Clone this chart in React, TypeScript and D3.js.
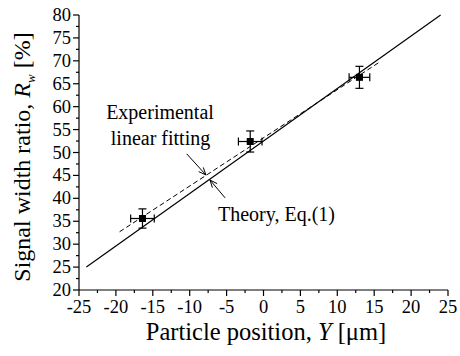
import React from 'react';
import * as d3 from 'd3';

// measured points (particle position Y [um] vs signal width ratio Rw [%])
const pointY = [-16.4, -1.8, 13.0];
const pointR = [35.6, 52.4, 66.4];
const errY = [1.6, 1.6, 1.4];
const errR = [2.1, 2.3, 2.4];

// theory line, Eq.(1)
const theoryY = [-24, 24];
const theoryR = [25, 80];

// experimental linear fitting
const fitY = [-19.5, 15.7];
const fitR = [32.7, 69.7];

const xTicks = [-25, -20, -15, -10, -5, 0, 5, 10, 15, 20, 25];
const yTicks = [20, 25, 30, 35, 40, 45, 50, 55, 60, 65, 70, 75, 80];

const W = 460;
const H = 356;
const font = "'Liberation Serif', 'DejaVu Serif', serif";

const x = d3.scaleLinear().domain([-25, 25]).range([79, 448]);
const y = d3.scaleLinear().domain([20, 80]).range([290, 15]);

const line = d3.line<[number, number]>()
  .x(d => x(d[0]))
  .y(d => y(d[1]));

function Arrow({ from, to }: { from: [number, number]; to: [number, number] }) {
  const x1 = x(from[0]), y1 = y(from[1]);
  const x2 = x(to[0]), y2 = y(to[1]);
  const ang = Math.atan2(y2 - y1, x2 - x1);
  const len = 8, spread = 0.4;
  const a1 = [x2 - len * Math.cos(ang - spread), y2 - len * Math.sin(ang - spread)];
  const a2 = [x2 - len * Math.cos(ang + spread), y2 - len * Math.sin(ang + spread)];
  return (
    <g stroke="#000" strokeWidth={1} fill="none">
      <line x1={x1} y1={y1} x2={x2} y2={y2} />
      <path d={`M${a1[0]},${a1[1]}L${x2},${y2}L${a2[0]},${a2[1]}`} />
    </g>
  );
}

export default function App() {
  const xMinor = d3.range(-22.5, 25, 5);
  const yMinor = d3.range(22.5, 80, 5);
  const txt = { fontFamily: font };

  return (
    <svg width={W} height={H} style={{ position: 'absolute', left: 0, top: 0, background: '#fff', fontFamily: font }}>
      {/* axes */}
      <g stroke="#000" strokeWidth={1.2}>
        <line x1={x(-25)} x2={x(25)} y1={y(20)} y2={y(20)} />
        <line x1={x(-25)} x2={x(-25)} y1={y(20)} y2={y(80)} />
        {xTicks.map(t => <line key={'xt' + t} x1={x(t)} x2={x(t)} y1={y(20)} y2={y(20) + 6} />)}
        {xMinor.map(t => <line key={'xm' + t} x1={x(t)} x2={x(t)} y1={y(20)} y2={y(20) + 3} />)}
        {yTicks.map(t => <line key={'yt' + t} x1={x(-25)} x2={x(-25) - 6} y1={y(t)} y2={y(t)} />)}
        {yMinor.map(t => <line key={'ym' + t} x1={x(-25)} x2={x(-25) - 3} y1={y(t)} y2={y(t)} />)}
      </g>
      <g fontSize={18.5} fill="#000" style={txt}>
        {xTicks.map(t => (
          <text key={'xl' + t} x={x(t)} y={y(20) + 23} textAnchor="middle">{t}</text>
        ))}
        {yTicks.map(t => (
          <text key={'yl' + t} x={x(-25) - 8} y={y(t) + 6} textAnchor="end">{t}</text>
        ))}
      </g>

      {/* axis titles */}
      <text x={266} y={340} fontSize={24.5} textAnchor="middle" style={txt}>
        Particle position, <tspan fontStyle="italic">Y</tspan> [μm]
      </text>
      <text transform="translate(30,157) rotate(-90)" fontSize={24} textAnchor="middle" style={txt}>
        Signal width ratio, <tspan fontStyle="italic">R</tspan>
        <tspan fontStyle="italic" fontSize={13} dy={5}>w</tspan>
        <tspan dy={-5}> [%]</tspan>
      </text>

      {/* lines */}
      <path d={line(theoryY.map((v, i) => [v, theoryR[i]]) as [number, number][]) || ''}
        stroke="#000" strokeWidth={1.2} fill="none" />
      <path d={line(fitY.map((v, i) => [v, fitR[i]]) as [number, number][]) || ''}
        stroke="#000" strokeWidth={1} strokeDasharray="5,3" fill="none" />

      {/* points with error bars */}
      {pointY.map((py, i) => {
        const cx = x(py), cy = y(pointR[i]);
        const x0 = x(py - errY[i]), x1 = x(py + errY[i]);
        const y0 = y(pointR[i] - errR[i]), y1 = y(pointR[i] + errR[i]);
        return (
          <g key={'p' + i} stroke="#000" strokeWidth={1.2}>
            <line x1={x0} x2={x1} y1={cy} y2={cy} />
            <line x1={cx} x2={cx} y1={y0} y2={y1} />
            <line x1={x0} x2={x0} y1={cy - 4} y2={cy + 4} />
            <line x1={x1} x2={x1} y1={cy - 4} y2={cy + 4} />
            <line x1={cx - 4} x2={cx + 4} y1={y0} y2={y0} />
            <line x1={cx - 4} x2={cx + 4} y1={y1} y2={y1} />
            <rect x={cx - 3.5} y={cy - 3.5} width={7} height={7} fill="#000" stroke="none" />
          </g>
        );
      })}

      {/* annotations */}
      <g fontSize={20} fill="#000" style={txt}>
        <text x={160} y={119} textAnchor="middle">Experimental</text>
        <text x={160.5} y={145} textAnchor="middle">linear fitting</text>
        <text x={218} y={221}>Theory, Eq.(1)</text>
      </g>
      <Arrow from={[-10.4, 49.7]} to={[-7.8, 45.1]} />
      <Arrow from={[-5.2, 40.1]} to={[-7.25, 44.0]} />
    </svg>
  );
}
